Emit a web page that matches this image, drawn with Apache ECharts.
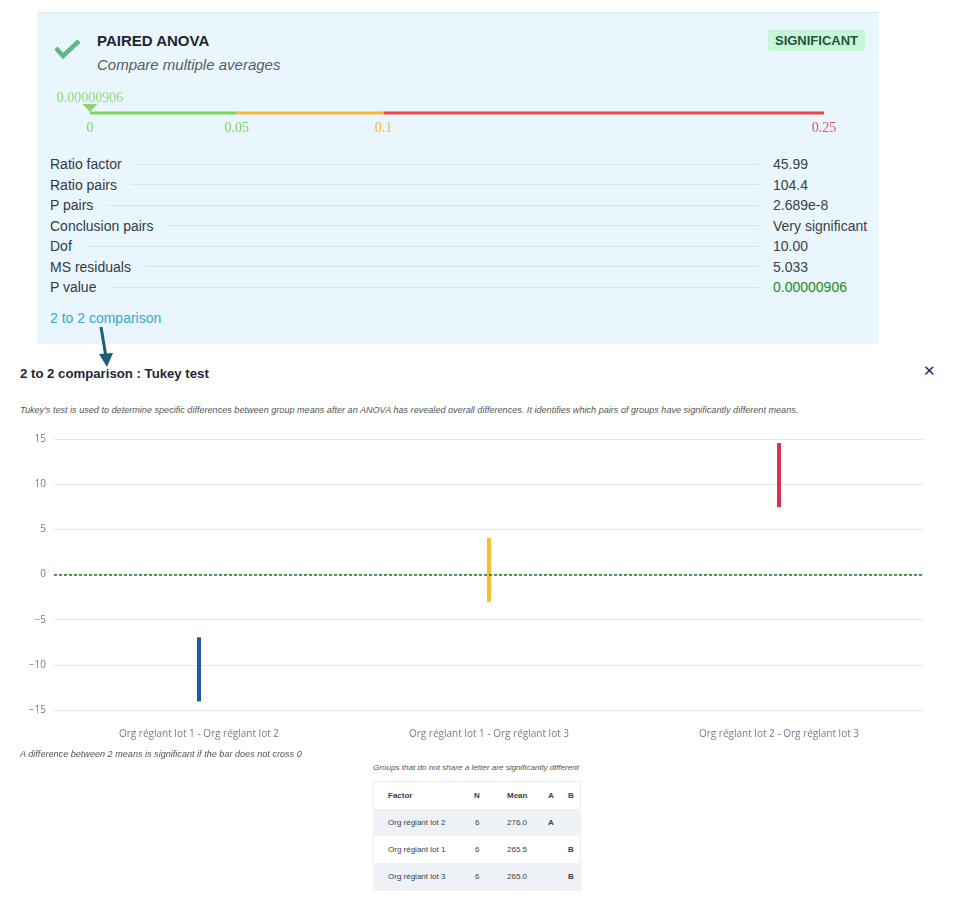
<!DOCTYPE html>
<html lang="en">
<head>
<meta charset="UTF-8">
<script src="https://cdn.jsdelivr.net/npm/echarts@6/dist/echarts.min.js"></script>
<title>Paired ANOVA - Tukey test</title>
<style>
    body { margin: 0; width: 964px; height: 902px; position: relative; overflow: hidden; background: #fff; font-family: Arial, "Liberation Sans", sans-serif; }
    .abs { position: absolute; }
    .card { left: 37px; top: 12px; width: 842px; height: 331px; background: #eaf6fd; border-top: 1px solid #dfe8ee; }
    .title { left: 97px; top: 32px; font-size: 15px; font-weight: bold; color: #1e2533; }
    .subtitle { left: 97px; top: 56px; font-size: 15px; font-style: italic; color: #555c66; }
    .badge { left: 768px; top: 30px; width: 97px; height: 21px; line-height: 21px; text-align: center; background: #c8f5d8; color: #1d5443; font-size: 13px; font-weight: bold; border-radius: 2px; }
    #stats { left: 50px; top: 154px; width: 816px; }
    .row { display: flex; align-items: center; height: 20.5px; font-size: 14px; color: #333a45; white-space: nowrap; }
    .row .fill { flex: 1; border-top: 1px solid #d9e3ec; margin: 0 15px 0 14px; }
    .row .val { width: 93px; color: #3a3f48; white-space: nowrap; }
    .link { left: 50px; top: 310px; font-size: 14px; color: #35a8cf; }
    .h2 { left: 20px; top: 366px; font-size: 13.2px; font-weight: bold; color: #222831; }
    .close { left: 923px; top: 362px; font-size: 15px; color: #2a2f3a; }
    .note { font-size: 9.1px; font-style: italic; color: #555; white-space: nowrap; }
    table { border-collapse: collapse; table-layout: fixed; font-size: 8px; color: #3a3f48; }
    td, th { height: 27px; padding: 0; text-align: left; }
    th { font-weight: bold; }
    tr.alt { background: #eef2f6; }
</style>
</head>
<body>

<div class="abs card"></div>
<svg class="abs" style="left:50px;top:35px" width="36" height="28">
    <polyline points="6,13 13,21 29,6" fill="none" stroke="#5cb88a" stroke-width="4.5"/>
</svg>
<div class="abs title">PAIRED ANOVA</div>
<div class="abs subtitle">Compare multiple averages</div>
<div class="abs badge">SIGNIFICANT</div>

<div class="abs" id="scale" style="left:0;top:80px;width:964px;height:60px"></div>

<div class="abs" id="stats"></div>
<div class="abs link">2 to 2 comparison</div>

<svg class="abs" style="left:90px;top:325px" width="30" height="45">
    <line x1="11" y1="2" x2="16" y2="32" stroke="#1b5d7b" stroke-width="3"/>
    <polygon points="9,29 23,28 17,42" fill="#1b5d7b"/>
</svg>

<div class="abs h2">2 to 2 comparison : Tukey test</div>
<div class="abs close">&#x2715;</div>
<div class="abs note" style="left:20px;top:405px">Tukey's test is used to determine specific differences between group means after an ANOVA has revealed overall differences. It identifies which pairs of groups have significantly different means.</div>

<div class="abs" id="tukey" style="left:0;top:425px;width:964px;height:330px"></div>

<div class="abs note" style="left:20px;top:749px">A difference between 2 means is significant if the bar does not cross 0</div>
<div class="abs note" style="left:373px;top:763px;font-size:8.1px">Groups that do not share a letter are significantly different</div>
<div class="abs" style="left:373px;top:781px;width:206px;border:1px solid #edf0f3">
    <table id="groups" style="width:206px"></table>
</div>

<script type="text/javascript">
    // p-value scale
    var pValue = 0.00000906;
    var pValueText = '0.00000906';
    var scaleStops = [0, 0.05, 0.1, 0.25];
    var scaleColors = ['#7dd35b', '#f6b93b', '#e84848'];
    var scaleLabelColors = ['#7bd35a', '#7bd35a', '#f5b731', '#e85555'];

    // summary list
    var statLabels = ['Ratio factor', 'Ratio pairs', 'P pairs', 'Conclusion pairs', 'Dof', 'MS residuals', 'P value'];
    var statValues = ['45.99', '104.4', '2.689e-8', 'Very significant', '10.00', '5.033', '0.00000906'];

    // Tukey intervals
    var pairs = ['Org réglant lot 1 - Org réglant lot 2', 'Org réglant lot 1 - Org réglant lot 3', 'Org réglant lot 2 - Org réglant lot 3'];
    var lowerCI = [-14.05, -3.05, 7.45];
    var upperCI = [-6.95, 4.05, 14.55];
    var barColors = ['#1f5c9e', '#fbbd2e', '#d93250'];
    var yMin = -15, yMax = 15, yStep = 5;

    // grouping table
    var groupHeader = ['Factor', 'N', 'Mean', 'A', 'B'];
    var groupFactors = ['Org réglant lot 2', 'Org réglant lot 1', 'Org réglant lot 3'];
    var groupN = [6, 6, 6];
    var groupMeans = ['276.0', '265.5', '265.0'];
    var groupA = ['A', '', ''];
    var groupB = ['', 'B', 'B'];

    // stats rows
    var statsHtml = '';
    for (var i = 0; i < statLabels.length; i++) {
        var col = statLabels[i] === 'P value' ? ' style="color:#1a8a1a"' : '';
        statsHtml += '<div class="row"><span>' + statLabels[i] + '</span><span class="fill"></span><span class="val"' + col + '>' + statValues[i] + '</span></div>';
    }
    document.getElementById('stats').innerHTML = statsHtml;

    // table
    var colWidths = [100, 33, 41, 20, 12];
    var tHtml = '<colgroup>';
    colWidths.forEach(function (w) { tHtml += '<col style="width:' + w + 'px">'; });
    tHtml += '</colgroup><tr>';
    groupHeader.forEach(function (h, k) { tHtml += '<th' + (k === 0 ? ' style="padding-left:14px"' : '') + '>' + h + '</th>'; });
    tHtml += '</tr>';
    for (var r = 0; r < groupFactors.length; r++) {
        var cells = [groupFactors[r], groupN[r], groupMeans[r], groupA[r], groupB[r]];
        tHtml += '<tr' + (r % 2 === 0 ? ' class="alt"' : '') + '>';
        cells.forEach(function (c, k) {
            var st = k === 0 ? 'padding-left:14px' : (k === 1 ? 'padding-left:1px' : (k >= 3 ? 'font-weight:bold' : ''));
            tHtml += '<td style="' + st + '">' + c + '</td>';
        });
        tHtml += '</tr>';
    }
    document.getElementById('groups').innerHTML = tHtml;

    // scale chart
    var serifFont = '"Liberation Serif", "Times New Roman", serif';
    var scaleChart = echarts.init(document.getElementById('scale'));
    var segSeries = [];
    for (var s = 0; s < scaleColors.length; s++) {
        segSeries.push({
            type: 'line',
            clip: false,
            symbol: 'none',
            silent: true,
            lineStyle: { color: scaleColors[s], width: 3 },
            data: [[scaleStops[s], 0], [scaleStops[s + 1], 0]]
        });
    }
    segSeries.push({
        type: 'scatter',
        clip: false,
        symbol: 'triangle',
        symbolRotate: 180,
        symbolSize: [15, 8],
        symbolOffset: [0, -5],
        itemStyle: { color: '#76c94f' },
        label: {
            show: true,
            position: 'top',
            distance: -1,
            formatter: pValueText,
            color: '#7bd35a',
            fontFamily: serifFont,
            fontSize: 14
        },
        data: [[pValue, 0]]
    });
    var stopRich = {};
    scaleLabelColors.forEach(function (c, k) {
        stopRich['c' + k] = { color: c, fontSize: 14, fontFamily: serifFont };
    });
    scaleChart.setOption({
        animation: false,
        grid: { left: 90, right: 140, top: 13, height: 20 },
        xAxis: {
            type: 'value',
            min: scaleStops[0],
            max: scaleStops[scaleStops.length - 1],
            axisLine: { show: false },
            axisTick: { show: false },
            splitLine: { show: false },
            axisLabel: {
                customValues: scaleStops,
                margin: 8,
                fontSize: 14,
                fontFamily: serifFont,
                formatter: function (v) {
                    var k = 0;
                    scaleStops.forEach(function (st, j) { if (Math.abs(st - v) < 1e-9) k = j; });
                    return '{c' + k + '|' + v + '}';
                },
                rich: stopRich
            }
        },
        yAxis: { type: 'value', min: 0, max: 1, show: false },
        series: segSeries
    });

    // Tukey chart
    var tukeyChart = echarts.init(document.getElementById('tukey'));
    tukeyChart.setOption({
        animation: false,
        grid: { left: 54, right: 40, top: 14, bottom: 45 },
        xAxis: {
            type: 'category',
            data: pairs,
            axisLine: { show: false },
            axisTick: { show: false },
            axisLabel: { margin: 19, fontSize: 10, color: '#6f7f95', fontFamily: '"Open Sans", sans-serif' }
        },
        yAxis: {
            type: 'value',
            min: yMin,
            max: yMax,
            interval: yStep,
            axisLine: { show: false },
            axisTick: { show: false },
            splitLine: { lineStyle: { color: '#e3e8ef' } },
            axisLabel: {
                margin: 8,
                fontSize: 10,
                color: '#6f7b8b',
                fontFamily: '"Open Sans", sans-serif',
                formatter: function (v) { return String(v).replace('-', '\u2212'); }
            }
        },
        series: [{
            type: 'custom',
            renderItem: function (params, api) {
                var lo = api.coord([api.value(0), api.value(1)]);
                var hi = api.coord([api.value(0), api.value(2)]);
                return {
                    type: 'rect',
                    shape: { x: lo[0] - 2, y: hi[1], width: 4, height: lo[1] - hi[1] },
                    style: { fill: barColors[params.dataIndex] }
                };
            },
            encode: { x: 0, y: [1, 2] },
            data: pairs.map(function (p, i) { return [i, lowerCI[i], upperCI[i]]; }),
            markLine: {
                silent: true,
                symbol: 'none',
                label: { show: false },
                lineStyle: { color: '#137a13', width: 1.5, type: [3, 2] },
                data: [{ yAxis: 0 }]
            }
        }]
    });
</script>
</body>
</html>
